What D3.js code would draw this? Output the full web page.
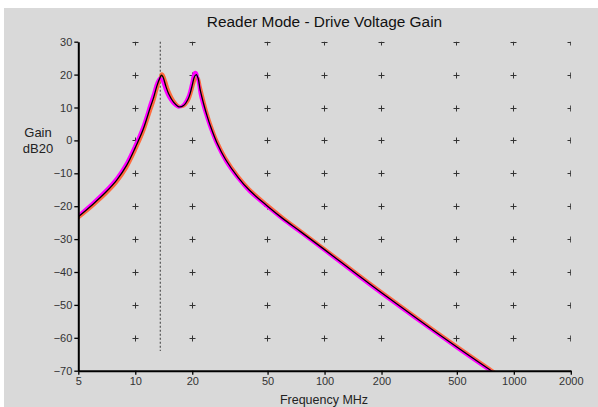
<!DOCTYPE html>
<html><head><meta charset="utf-8">
<script src="https://cdn.jsdelivr.net/npm/d3@7"></script>
<style>
html,body{margin:0;padding:0;background:#fff;}
svg{display:block;font-family:"Liberation Sans",Arial,sans-serif;}
</style></head>
<body><svg id="c" width="598" height="407"></svg>
<script>
const title = "Reader Mode - Drive Voltage Gain";
const xLabel = "Frequency MHz";
const yLabel = ["Gain", "dB20"];
const xTicks = [5, 10, 20, 50, 100, 200, 500, 1000, 2000];
const yTicks = [30, 20, 10, 0, -10, -20, -30, -40, -50, -60, -70];
const markerFreq = 13.56;
const markerBottom = -64;

const freq = [5, 6, 7, 8, 9, 10, 11, 12, 12.5, 13, 13.5, 13.75, 14, 14.5, 15, 16, 17, 18, 19, 19.5, 20, 20.5, 21, 21.5, 22, 23, 24, 25, 27, 30, 35, 40, 50, 60, 75, 100, 150, 200, 300, 500, 750, 800];
const gainBlack = [-23.2, -19.3, -15.7, -12.0, -7.6, -2.2, 3.3, 10, 13, 16.5, 19, 19.8, 19.3, 16.5, 14.2, 11.5, 10.2, 10.6, 12.5, 14.3, 16.8, 19.2, 20.0, 18.8, 15.5, 11, 7.3, 4.2, -0.7, -5.8, -11.3, -15.1, -20.0, -23.7, -27.8, -33.2, -40.9, -46.3, -53.7, -62.8, -69.8, -70.9];
const gainMagenta = [-22.8, -18.8, -15.1, -11.3, -6.8, -1.3, 4.4, 11.2, 14.3, 17.5, 19.0, 18.6, 17.6, 15.0, 13.2, 11.0, 10.1, 10.9, 13.3, 15.4, 18.2, 20.5, 20.6, 18.0, 14.2, 9.9, 6.5, 3.5, -1.3, -6.3, -11.7, -15.5, -20.3, -24.0, -28.1, -33.5, -41.2, -46.6, -54.0, -63.1, -70.1, -71.2];
const gainOrange = [-23.6, -19.8, -16.3, -12.7, -8.4, -3.1, 2.3, 8.8, 11.7, 15.3, 18.6, 20.2, 20.0, 17.8, 15.2, 12.0, 10.4, 10.4, 11.9, 13.4, 15.6, 17.8, 18.9, 18.9, 16.6, 12.1, 8.2, 5.0, -0.1, -5.3, -10.9, -14.7, -19.6, -23.3, -27.5, -32.9, -40.6, -46.0, -53.4, -62.5, -69.5, -70.6];

const series = [
  {g: gainOrange, color: "#ff6a3d", w: 3},
  {g: gainMagenta, color: "#ff00ff", w: 3},
  {g: gainBlack, color: "#000000", w: 1.3}
];

const svg = d3.select("#c");
const L = 78.3, R = 570.8, T = 41.7, B = 370.7;
svg.append("rect").attr("x", 4).attr("y", 8).attr("width", 594).attr("height", 399).attr("fill", "#d9d9d9");

const x = d3.scaleLog().domain([5, 2000]).range([L, R]);
const y = d3.scaleLinear().domain([-70, 30]).range([B, T]);

svg.append("defs").append("clipPath").attr("id", "clip")
  .append("rect").attr("x", L).attr("y", T).attr("width", R - L).attr("height", B - T);

const g = svg.append("g");
// grid plus markers
const gm = g.append("g").attr("clip-path", "url(#clip)").attr("stroke", "#333").attr("stroke-width", 1);
xTicks.slice(1).forEach(f => {
  yTicks.slice(0, -1).forEach(v => {
    const cx = Math.floor(x(f)) + 0.5, cy = Math.round(y(v)) + 0.5;
    gm.append("line").attr("x1", cx - 3).attr("x2", cx + 3).attr("y1", cy).attr("y2", cy);
    gm.append("line").attr("x1", cx).attr("x2", cx).attr("y1", cy - 3).attr("y2", cy + 3);
  });
});

// dotted marker line
g.append("line").attr("x1", x(markerFreq)).attr("x2", x(markerFreq))
  .attr("y1", y(30)).attr("y2", y(markerBottom))
  .attr("stroke", "#555").attr("stroke-width", 1.2).attr("stroke-dasharray", "2,2");

// curves
const cg = g.append("g").attr("clip-path", "url(#clip)");
series.forEach(s => {
  const line = d3.line().x((d, i) => x(freq[i])).y(d => y(d)).curve(d3.curveCatmullRom.alpha(0.5));
  cg.append("path").attr("d", line(s.g)).attr("fill", "none")
    .attr("stroke", s.color).attr("stroke-width", s.w).attr("stroke-linejoin", "round");
});

// axes
const xAxis = d3.axisBottom(x).tickValues(xTicks).tickFormat(d3.format("d")).tickSize(4).tickSizeOuter(0);
const yAxis = d3.axisLeft(y).tickValues(yTicks).tickFormat(d3.format("d")).tickSize(4).tickSizeOuter(0);
const ax = svg.append("g").attr("transform", `translate(0,${B})`).call(xAxis);
const ay = svg.append("g").attr("transform", `translate(${L},0)`).call(yAxis);
[ax, ay].forEach(a => {
  a.select(".domain").attr("stroke", "#000").attr("stroke-width", 2);
  a.selectAll(".tick line").attr("stroke", "#000").attr("stroke-width", 1.3);
  a.selectAll(".tick text").attr("fill", "#333").style("font-size", "11px").style("font-family", '"Liberation Sans",Arial,sans-serif');
});
ax.selectAll(".tick text").attr("dy", "0.75em").attr("y", 6);
ay.selectAll(".tick text").attr("x", -6);

svg.append("text").attr("x", 324.5).attr("y", 27).attr("text-anchor", "middle")
  .style("font-size", "15.4px").attr("fill", "#111").text(title);
svg.append("text").attr("x", 324).attr("y", 404).attr("text-anchor", "middle")
  .style("font-size", "12.5px").attr("fill", "#222").text(xLabel);
yLabel.forEach((t, i) => {
  svg.append("text").attr("x", 38).attr("y", 137 + i * 16).attr("text-anchor", "middle")
    .style("font-size", "13px").attr("fill", "#222").text(t);
});
</script></body></html>
